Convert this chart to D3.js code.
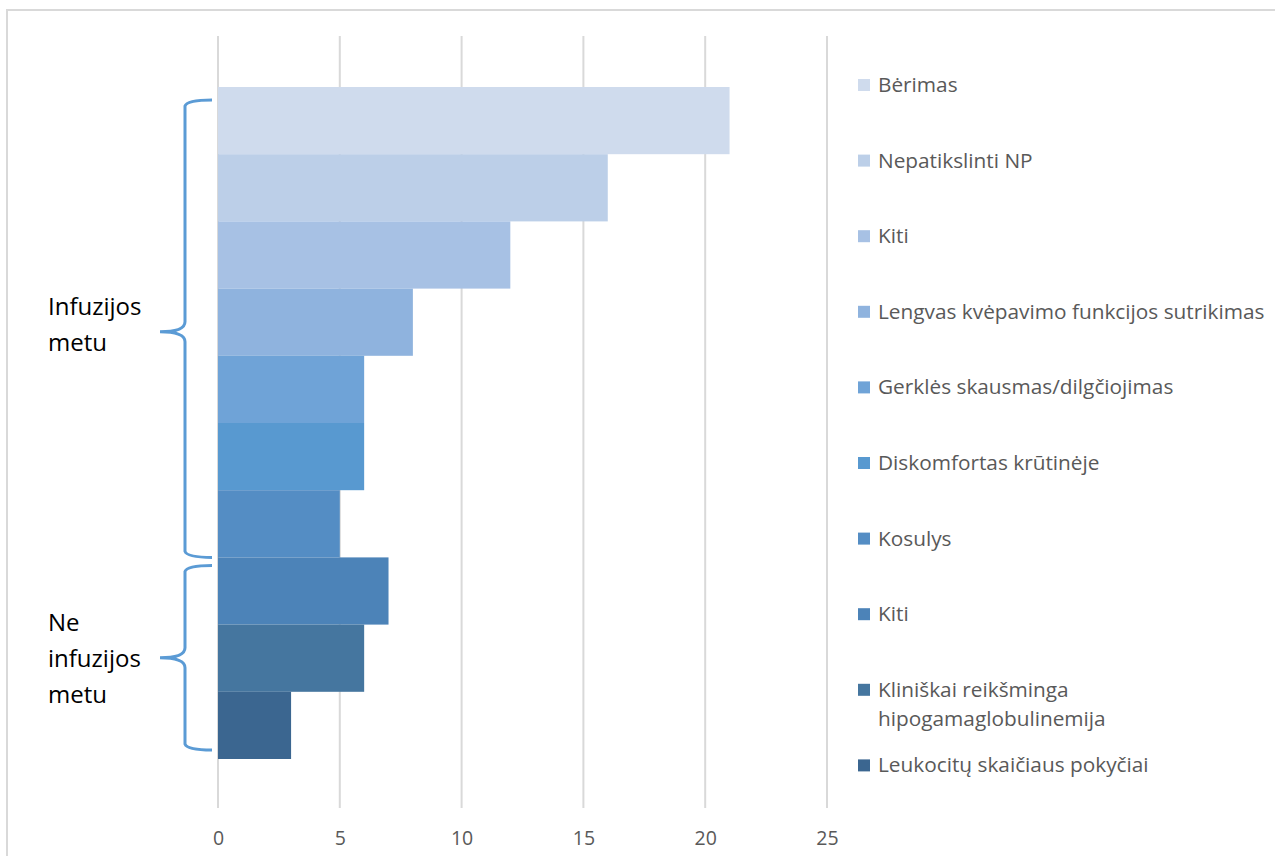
<!DOCTYPE html>
<html>
<head>
<meta charset="utf-8">
<script src="https://cdn.jsdelivr.net/npm/d3@7"></script>
<style>
  html, body { margin: 0; padding: 0; background: #fff; }
  svg { display: block; }
</style>
</head>
<body>
<svg id="chart" width="1275" height="856"></svg>
<script>
// Adverse reactions, count of cases per reaction type
const series = [
  "Bėrimas",
  "Nepatikslinti NP",
  "Kiti",
  "Lengvas kvėpavimo funkcijos sutrikimas",
  "Gerklės skausmas/dilgčiojimas",
  "Diskomfortas krūtinėje",
  "Kosulys",
  "Kiti",
  "Kliniškai reikšminga hipogamaglobulinemija",
  "Leukocitų skaičiaus pokyčiai"
];
const values = [21, 16, 12, 8, 6, 6, 5, 7, 6, 3];
const colors = [
  "#cfdbed", "#bccfe8", "#a7c1e4", "#8fb3de", "#6fa3d7",
  "#5899d0", "#548dc4", "#4c83b8", "#45769f", "#3b6690"
];
const tickValues = [0, 5, 10, 15, 20, 25];
// Legend lines (long names wrap onto two lines)
const legendLines = [
  ["Bėrimas"],
  ["Nepatikslinti NP"],
  ["Kiti"],
  ["Lengvas kvėpavimo funkcijos sutrikimas"],
  ["Gerklės skausmas/dilgčiojimas"],
  ["Diskomfortas krūtinėje"],
  ["Kosulys"],
  ["Kiti"],
  ["Kliniškai reikšminga", "hipogamaglobulinemija"],
  ["Leukocitų skaičiaus pokyčiai"]
];
// Group brackets: first and last series index covered, with label lines
const groups = [
  { from: 0, to: 6, lines: ["Infuzijos", "metu"] },
  { from: 7, to: 9, lines: ["Ne", "infuzijos", "metu"] }
];
// bracket layout: end insets (px) relative to the covered bars, tip and label nudges
const braceLayout = [
  { top: 13, bottom: 0, tip: 3, label: -5 },
  { top: 8, bottom: -9, tip: 0, label: 0 }
];

const svg = d3.select("#chart");
const font = "'Open Sans', 'Liberation Sans', sans-serif";

// chart frame
svg.append("rect")
  .attr("x", 7).attr("y", 10)
  .attr("width", 1300).attr("height", 900)
  .attr("fill", "none")
  .attr("stroke", "#d9d9d9")
  .attr("stroke-width", 2);

const plot = { top: 36, bottom: 808 };
const x = d3.scaleLinear().domain([0, 25]).range([218, 827]);
const y = d3.scaleBand()
  .domain(d3.range(series.length))
  .range([87, 759])
  .paddingInner(0);

// vertical gridlines
svg.append("g")
  .selectAll("line")
  .data(tickValues)
  .join("line")
  .attr("x1", d => x(d)).attr("x2", d => x(d))
  .attr("y1", plot.top).attr("y2", plot.bottom)
  .attr("stroke", "#d9d9d9")
  .attr("stroke-width", 2);

// bars
svg.append("g")
  .selectAll("rect")
  .data(values)
  .join("rect")
  .attr("x", x(0))
  .attr("y", (d, i) => y(i))
  .attr("width", d => x(d) - x(0))
  .attr("height", y.bandwidth())
  .attr("fill", (d, i) => colors[i]);

// x axis tick labels
const axis = d3.axisBottom(x).tickValues(tickValues).tickSize(0).tickPadding(0);
const gAxis = svg.append("g")
  .attr("transform", `translate(0, 831)`)
  .call(axis);
gAxis.select(".domain").remove();
gAxis.selectAll("text")
  .attr("font-family", font)
  .attr("font-size", 19.5)
  .attr("fill", "#595959")
  .attr("dy", "0.71em");

// legend
const legend = svg.append("g");
const legendY0 = 92, legendStep = 75.6;
legendLines.forEach((lines, i) => {
  const base = legendY0 + i * legendStep;
  legend.append("rect")
    .attr("x", 858).attr("y", base - 13)
    .attr("width", 12).attr("height", 12)
    .attr("fill", colors[i]);
  const t = legend.append("text")
    .attr("x", 878).attr("y", base)
    .attr("font-family", font)
    .attr("font-size", 20.8)
    .attr("fill", "#595959");
  lines.forEach((ln, j) => {
    t.append("tspan").attr("x", 878).attr("dy", j === 0 ? 0 : 29).text(ln);
  });
});

// curly brackets for the two groups
function bracePath(y0, y1, ym, xr, xv, xt) {
  const r = 6;
  return `M${xr},${y0} Q${xv + 2},${y0} ${xv},${y0 + r}` +
         `L${xv},${ym - 10} Q${xv},${ym} ${xt},${ym}` +
         `Q${xv},${ym} ${xv},${ym + 10}` +
         `L${xv},${y1 - r} Q${xv + 2},${y1} ${xr},${y1}`;
}
const gBrace = svg.append("g");
groups.forEach((g, k) => {
  const L = braceLayout[k];
  const y0 = y(g.from) + L.top;
  const y1 = y(g.to) + y.bandwidth() + L.bottom;
  const ym = (y0 + y1) / 2;
  gBrace.append("path")
    .attr("d", bracePath(y0, y1, ym + L.tip, 212, 185, 160))
    .attr("fill", "none")
    .attr("stroke", "#5b9bd5")
    .attr("stroke-width", 3);
  const lh = 36;
  const startY = ym - (g.lines.length - 1) * lh / 2 + 9 + L.label;
  const t = svg.append("text")
    .attr("font-family", font)
    .attr("font-size", 24)
    .attr("fill", "#000");
  g.lines.forEach((ln, j) => {
    t.append("tspan").attr("x", 48).attr("y", startY + j * lh).text(ln);
  });
});
</script>
</body>
</html>
